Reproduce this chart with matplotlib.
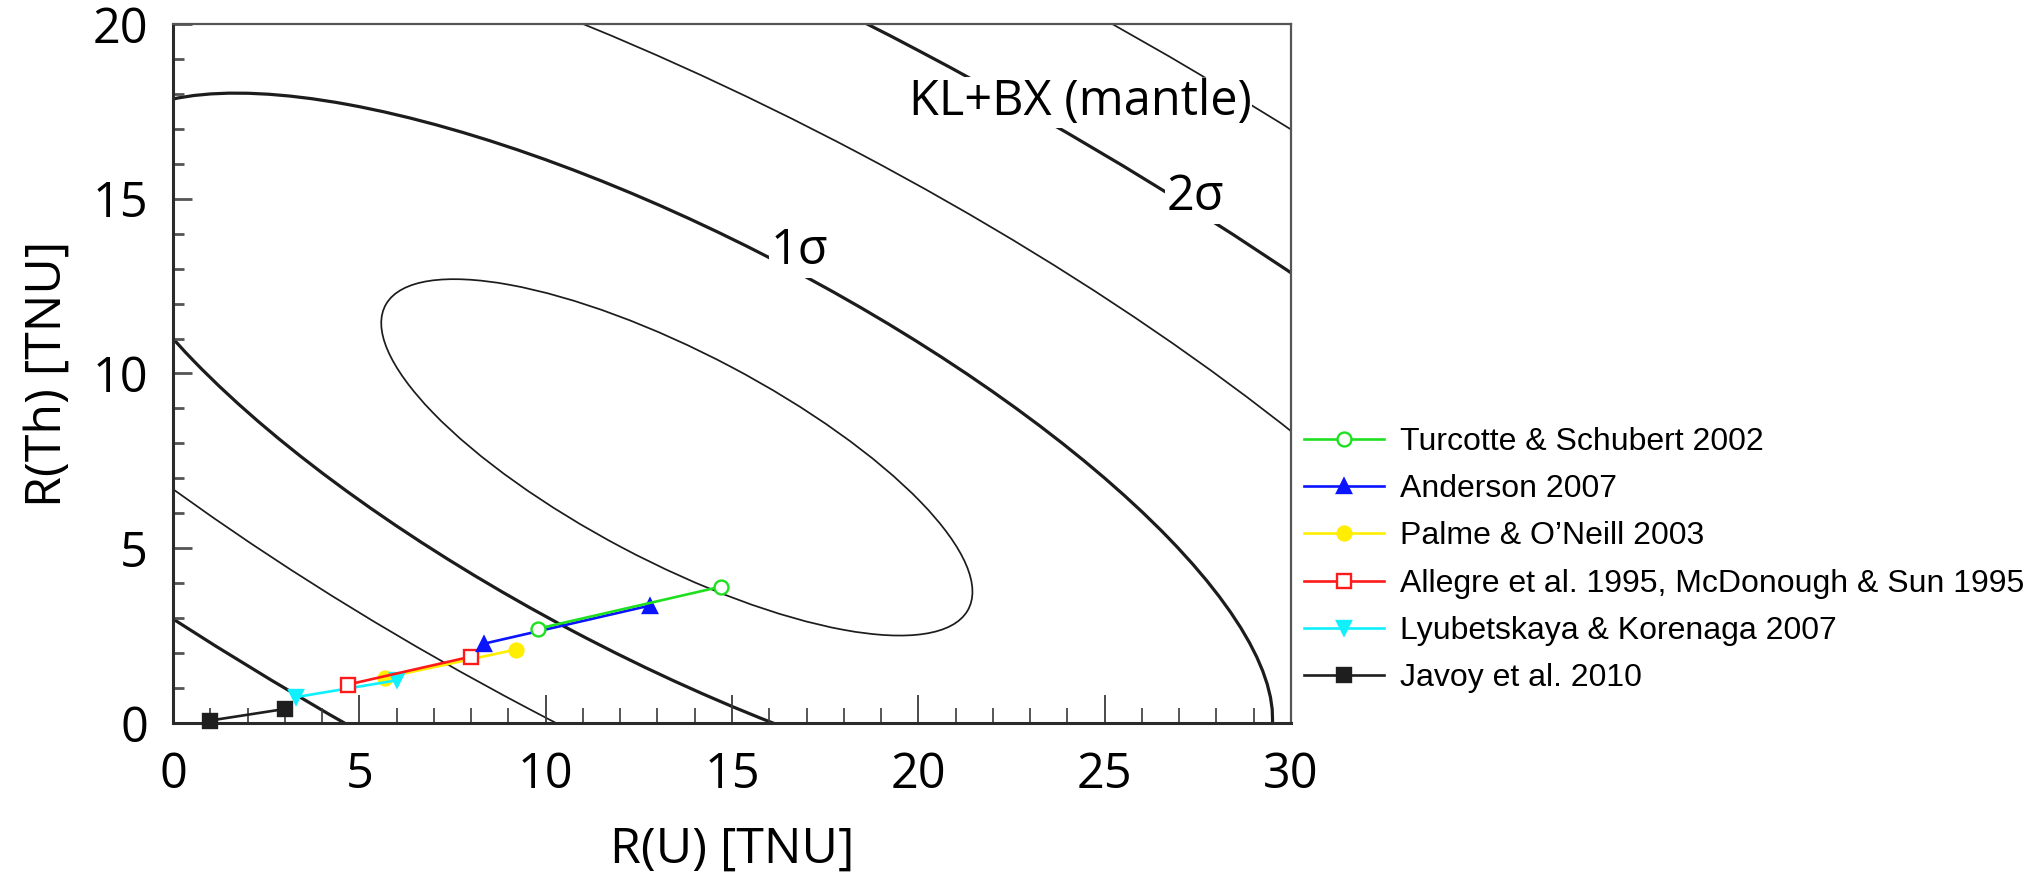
import matplotlib
matplotlib.use("Agg")
import matplotlib.pyplot as plt
from matplotlib.patches import Ellipse
from matplotlib.ticker import MultipleLocator
from matplotlib.font_manager import FontProperties

# Bulk-silicate-Earth model predictions for the mantle geoneutrino signal:
# each model gives a low and a high estimate of R(U) and R(Th) in TNU.
models = [
    "Turcotte & Schubert 2002",
    "Anderson 2007",
    "Palme & O\u2019Neill 2003",
    "Allegre et al. 1995, McDonough & Sun 1995",
    "Lyubetskaya & Korenaga 2007",
    "Javoy et al. 2010",
]
r_u = [[9.8, 14.7], [8.35, 12.8], [5.7, 9.2], [4.7, 8.0], [3.3, 6.0], [1.0, 3.0]]
r_th = [[2.7, 3.9], [2.27, 3.36], [1.3, 2.1], [1.1, 1.9], [0.74, 1.22], [0.07, 0.4]]

# KL+BX (mantle) allowed-region contours, as ellipses in the R(U)-R(Th) plane [TNU]
cont_cu = [13.52, 13.64, 13.95, 14.07, 14.01]
cont_cth = [7.60, 7.82, 8.37, 8.58, 8.47]
cont_width = [17.9, 35.8, 55.6, 74.0, 95.2]
cont_height = [5.94, 11.9, 18.2, 24.4, 31.2]
cont_tilt = -29.4
cont_is_sigma = [False, True, False, True, False]

# styles
colors = ["#1fe01f", "#0a14ff", "#ffee00", "#ff1a1a", "#10f0ff", "#1e1e1e"]
markers = ["o", "^", "o", "s", "v", "s"]
hollow = [True, False, False, True, False, False]
layer = [6, 5, 3, 4, 3.5, 3]

plt.rcParams["font.family"] = ["Open Sans", "DejaVu Sans"]

fig = plt.figure(figsize=(20.26, 8.76), dpi=100)
ax = fig.add_axes([0.0854, 0.1747, 0.5518, 0.7979])

for cu, cth, w, h, sig in zip(cont_cu, cont_cth, cont_width, cont_height, cont_is_sigma):
    ax.add_patch(Ellipse((cu, cth), w, h, angle=cont_tilt, fill=False,
                         ec="#1c1c1c", lw=2.3 if sig else 1.25, zorder=1))

box = dict(fc="white", ec="none", pad=1.5)
ax.text(16.82, 13.5, "1\u03c3", fontsize=35, ha="center", va="center", bbox=box, zorder=2)
ax.text(27.44, 15.05, "2\u03c3", fontsize=35, ha="center", va="center", bbox=box, zorder=2)
ax.text(24.35, 17.76, "KL+BX (mantle)", fontsize=35, ha="center", va="center",
        bbox=dict(fc="white", ec="none", pad=0.5), zorder=2)

handles = []
for name, xs, ys, c, m, hol, z in zip(models, r_u, r_th, colors, markers, hollow, layer):
    (ln,) = ax.plot(xs, ys, color=c, lw=1.9, marker=m, ms=10,
                    mfc="white" if hol else c, mec=c, mew=1.7, zorder=z,
                    clip_on=False, label=name)
    handles.append(ln)

ax.set_xlim(0, 30)
ax.set_ylim(0, 20)
ax.xaxis.set_major_locator(MultipleLocator(5))
ax.xaxis.set_minor_locator(MultipleLocator(1))
ax.yaxis.set_major_locator(MultipleLocator(5))
ax.yaxis.set_minor_locator(MultipleLocator(1))

ax.tick_params(axis="x", which="major", direction="in", length=20, width=1.3,
               color="#3a3a3a", labelsize=35, pad=20, top=False)
ax.tick_params(axis="x", which="minor", direction="in", length=11, width=1.2,
               color="#3a3a3a", top=False)
ax.tick_params(axis="y", which="major", direction="in", length=14, width=2.0,
               color="#555555", labelsize=35, pad=18, right=False)
ax.tick_params(axis="y", which="minor", direction="in", length=8, width=2.0,
               color="#555555", right=False)

for side in ("left", "bottom"):
    ax.spines[side].set_linewidth(2.2)
    ax.spines[side].set_color("#2a2a2a")
for side in ("top", "right"):
    ax.spines[side].set_linewidth(1.6)
    ax.spines[side].set_color("#555555")

ax.set_xlabel("R(U) [TNU]", fontsize=36, labelpad=18)
ax.set_ylabel("R(Th) [TNU]", fontsize=36, labelpad=14)

leg_font = FontProperties(family=["Liberation Sans", "Open Sans"], size=23)
ax.legend(handles, models, loc="center left", bbox_to_anchor=(1.012, 0.233),
          frameon=False, prop=leg_font, handlelength=2.5, handletextpad=0.5,
          labelspacing=0.54, borderpad=0, borderaxespad=0)

fig.savefig("out.png", dpi=100, facecolor="white")
